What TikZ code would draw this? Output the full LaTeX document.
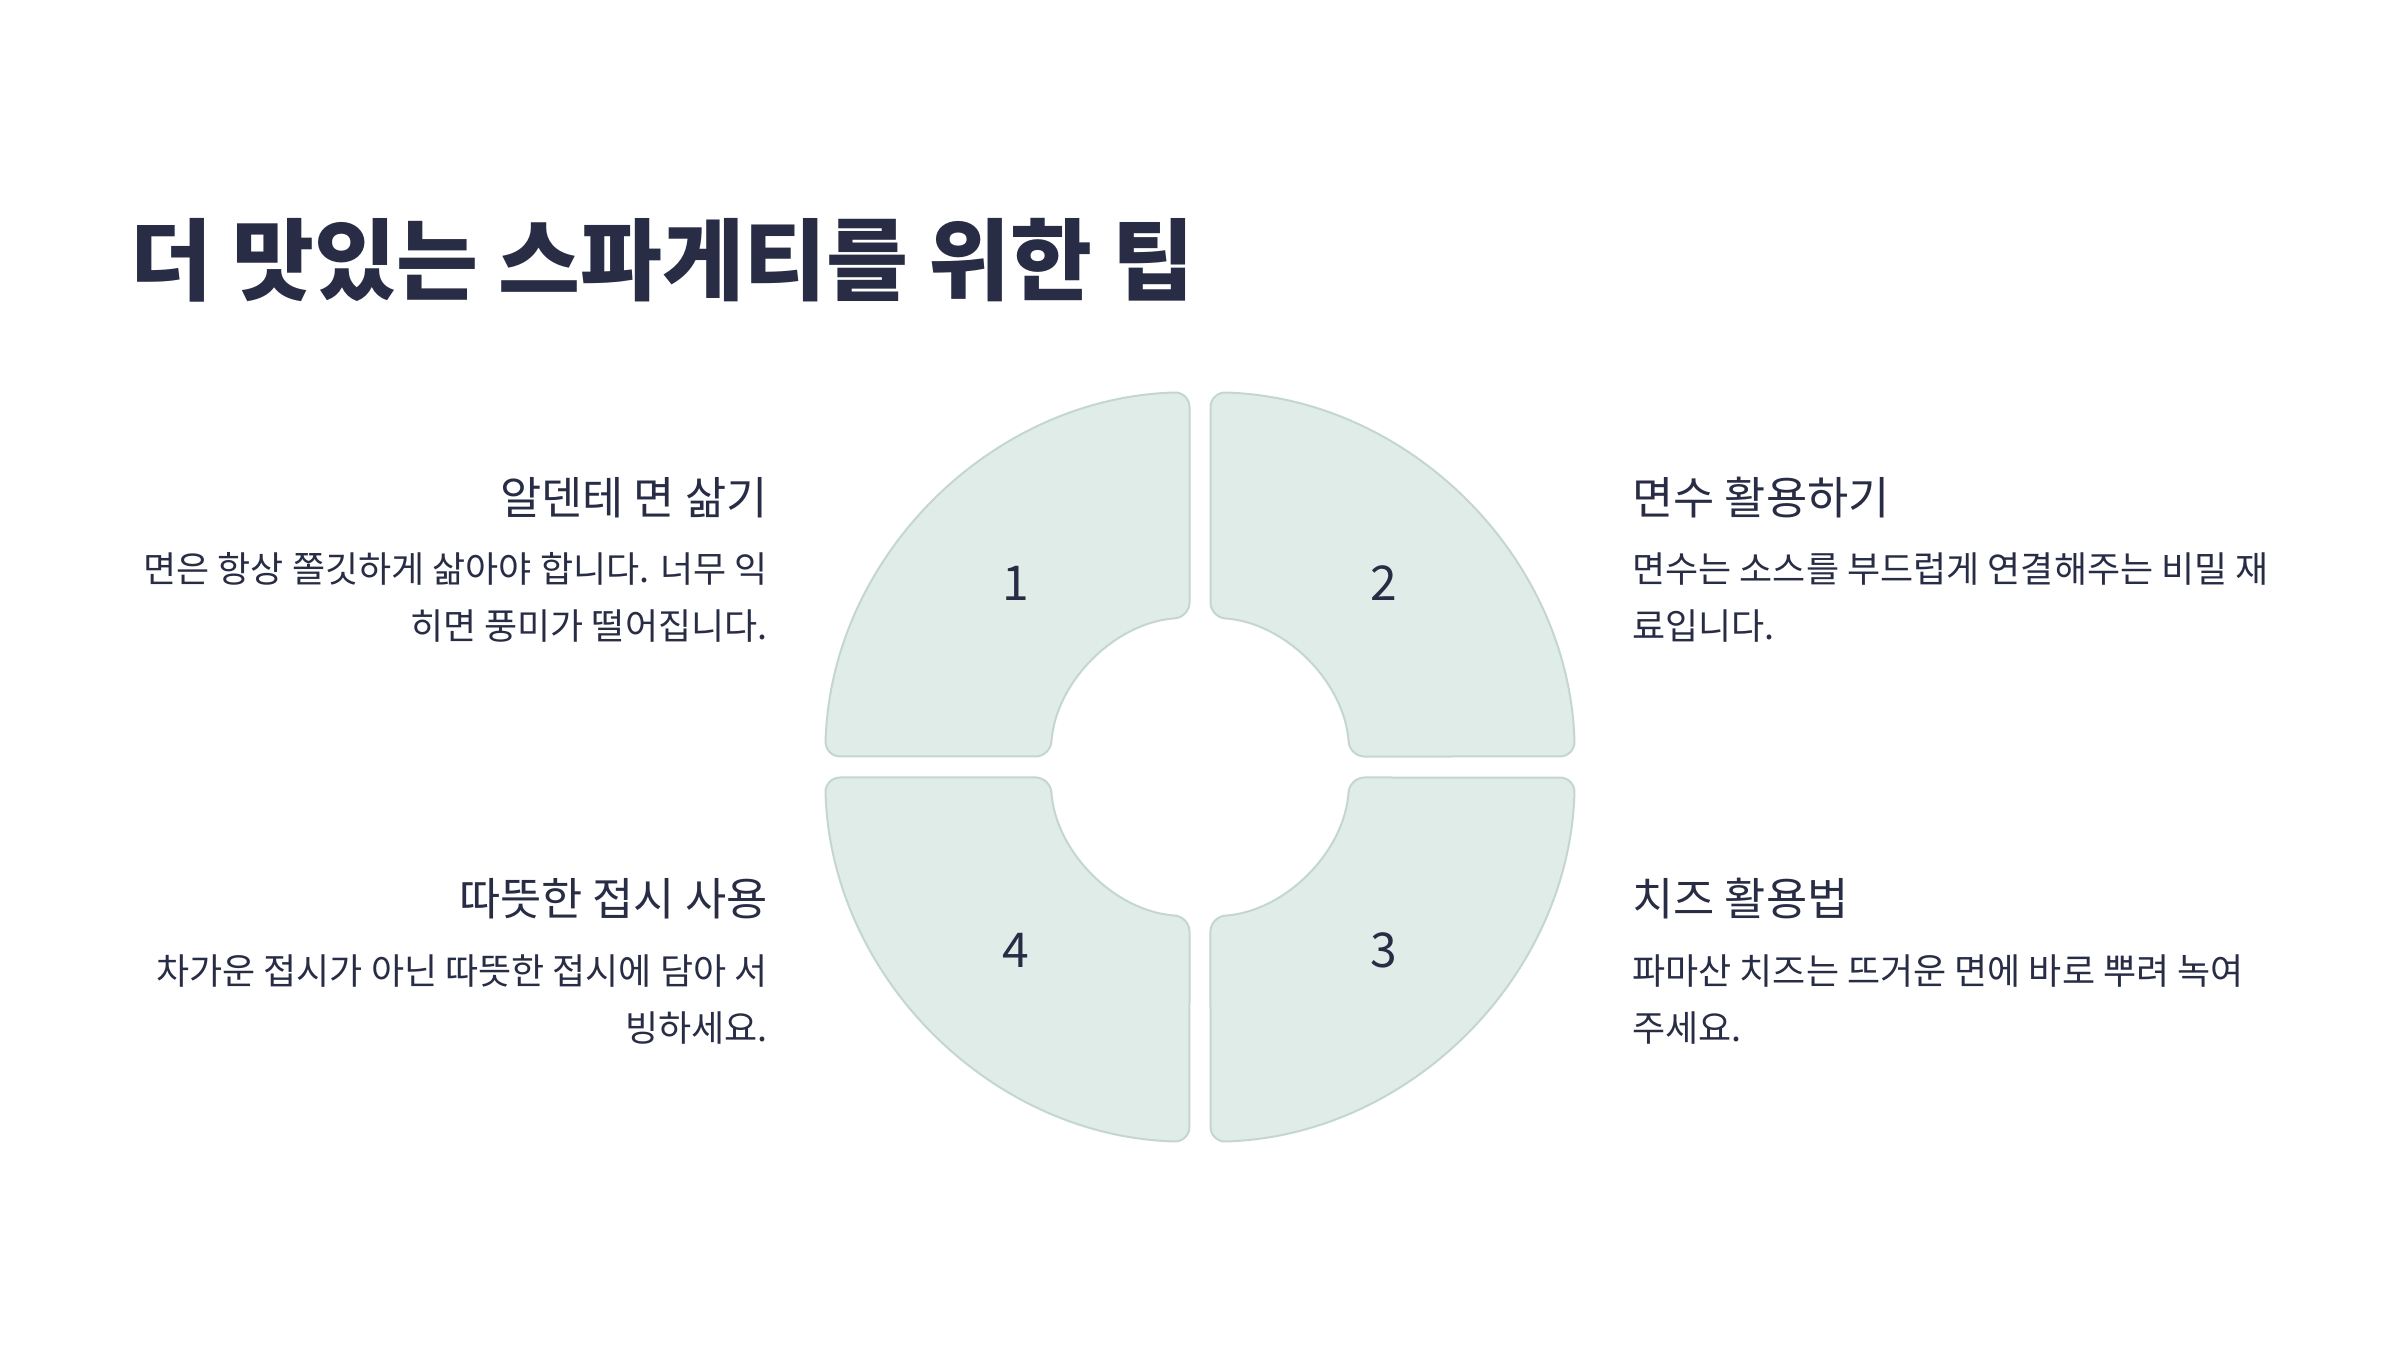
\documentclass[tikz,border=0pt]{standalone}
\usepackage{fontspec}
\setmainfont{Noto Sans CJK KR}
\usetikzlibrary{positioning}
\definecolor{spInk}{HTML}{282D45}
\definecolor{spFill}{HTML}{E0ECE8}
\definecolor{spEdge}{HTML}{C4D6D0}
\tikzset{
  quad/.style={
    fill=spFill, draw=spEdge, line width=1pt, rounded corners=7.5pt
  },
  ttl/.style={font=\fontsize{44.5}{52}\selectfont\bfseries, text=spInk, inner sep=0pt, anchor=west},
  hd/.style={font=\fontsize{22.4}{28}\selectfont, text=spInk, inner sep=0pt},
  bodyl/.style={font=\fontsize{18}{28.5}\selectfont, text=spInk, inner sep=0pt, align=right, anchor=east},
  bodyr/.style={font=\fontsize{18}{28.5}\selectfont, text=spInk, inner sep=0pt, align=left, anchor=west},
  num/.style={font=\fontsize{24}{28}\selectfont, text=spInk, inner sep=0pt},
}

\begin{document}
\begin{tikzpicture}[x=0.5pt, y=0.5pt]
  \useasboundingbox (0,0) rectangle (2400,1350);
  \fill[white] (0,0) rectangle (2400,1350);

  \node[ttl] (title) at (130,1090) {더 맛있는 스파게티를 위한 팁};

  % ring of four quarters
  \foreach \rot/\num in {0/1, -90/2, -180/3, 90/4} {
    \begin{scope}[shift={(1200,583)}, rotate=\rot]
      \draw[quad] (-10.5,260) -- (-10.5,374.9)
        arc[start angle=91.6, end angle=178.4, radius=375]
        -- (-149.6,10.5)
        arc[start angle=176, end angle=94, radius=150]
        -- cycle;
      \node[num] (q\num) at (135:260) {\num};
    \end{scope}
  }

  \node[hd, anchor=east] (h1) at (768,852.5) {알덴테 면 삶기};
  \node[bodyl] (b1) at (768,752.5) {면은 항상 쫄깃하게 삶아야 합니다. 너무 익\\히면 풍미가 떨어집니다.};
  \node[hd, anchor=west] (h2) at (1632,852.5) {면수 활용하기};
  \node[bodyr] (b2) at (1632,752.5) {면수는 소스를 부드럽게 연결해주는 비밀 재\\료입니다.};
  \node[hd, anchor=west] (h3) at (1632,451.5) {치즈 활용법};
  \node[bodyr] (b3) at (1632,350) {파마산 치즈는 뜨거운 면에 바로 뿌려 녹여\\주세요.};
  \node[hd, anchor=east] (h4) at (768,451.5) {따뜻한 접시 사용};
  \node[bodyl] (b4) at (768,350) {차가운 접시가 아닌 따뜻한 접시에 담아 서\\빙하세요.};
\end{tikzpicture}
\end{document}
